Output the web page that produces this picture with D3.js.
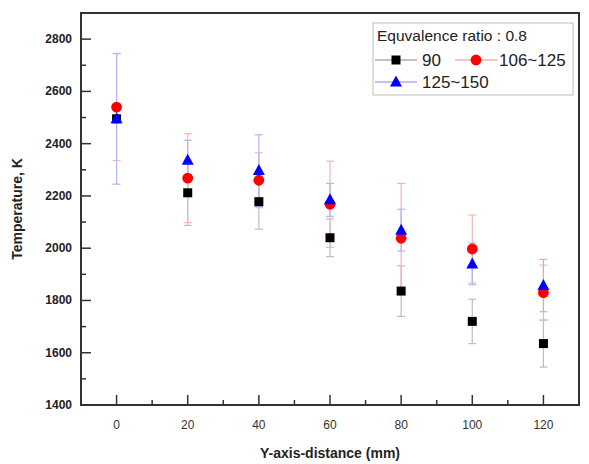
<!DOCTYPE html>
<html>
<head>
<meta charset="utf-8">
<script src="https://cdn.jsdelivr.net/npm/d3@7"></script>
<style>
  body { margin: 0; background: #fff; }
  svg { font-family: "Liberation Sans", Arial, sans-serif; }
</style>
</head>
<body>
<div id="chart"></div>
<script>
// distances along the y axis (mm)
const distances = [0, 20, 40, 60, 80, 100, 120];

// temperatures (K) and error half-widths for each series
const temp90 = [2495, 2212, 2178, 2040, 1836, 1720, 1635];
const err90 = [0, 125, 105, 72, 97, 85, 90];
const temp106 = [2540, 2268, 2260, 2168, 2038, 1997, 1830];
const err106 = [205, 170, 105, 165, 210, 130, 105];
const temp125 = [2495, 2337, 2297, 2185, 2069, 1940, 1857];
const err125 = [250, 76, 137, 63, 80, 80, 100];

const xTicks = [0, 20, 40, 60, 80, 100, 120];
const yTicks = [1400, 1600, 1800, 2000, 2200, 2400, 2600, 2800];

const series = [
  { name: '90', values: temp90, errors: err90, color: '#000', errColor: '#bdbdbd', shape: 'square' },
  { name: '106~125', values: temp106, errors: err106, color: '#ff0000', errColor: '#f8b4b4', shape: 'circle' },
  { name: '125~150', values: temp125, errors: err125, color: '#0000ff', errColor: '#b4b4f4', shape: 'triangle' }
];

const W = 589, H = 464;
const margin = { top: 13, right: 10, bottom: 59, left: 81 };
const width = W - margin.left - margin.right;
const height = H - margin.top - margin.bottom;

const svg = d3.select('#chart').append('svg')
  .attr('width', W)
  .attr('height', H);

const g = svg.append('g')
  .attr('transform', `translate(${margin.left},${margin.top})`);

const x = d3.scaleLinear().domain([-10, 130]).range([0, width]);
const y = d3.scaleLinear().domain([1400, 2900]).range([height, 0]);

// minor ticks (inward)
const minorX = d3.range(-10, 131, 10).filter(v => v % 20 !== 0 && v > -10 && v < 130);
const minorY = d3.range(1500, 2900, 200);

g.selectAll('.minor-x').data(minorX).enter().append('line')
  .attr('x1', d => x(d)).attr('x2', d => x(d))
  .attr('y1', height).attr('y2', height - 5)
  .attr('stroke', '#333').attr('stroke-width', 1.5);

g.selectAll('.major-x').data(xTicks).enter().append('line')
  .attr('x1', d => x(d)).attr('x2', d => x(d))
  .attr('y1', height).attr('y2', height - 10)
  .attr('stroke', '#333').attr('stroke-width', 1.5);

g.selectAll('.minor-y').data(minorY).enter().append('line')
  .attr('x1', 0).attr('x2', 5)
  .attr('y1', d => y(d)).attr('y2', d => y(d))
  .attr('stroke', '#333').attr('stroke-width', 1.5);

g.selectAll('.major-y').data(yTicks).enter().append('line')
  .attr('x1', 0).attr('x2', 10)
  .attr('y1', d => y(d)).attr('y2', d => y(d))
  .attr('stroke', '#333').attr('stroke-width', 1.5);

// tick labels
g.selectAll('.xlab').data(xTicks).enter().append('text')
  .attr('x', d => x(d))
  .attr('y', height + 24)
  .attr('text-anchor', 'middle')
  .style('font-size', '12px')
  .style('fill', '#333')
  .text(d => d);

g.selectAll('.ylab').data(yTicks).enter().append('text')
  .attr('x', -9)
  .attr('y', d => y(d) + 4)
  .attr('text-anchor', 'end')
  .style('font-size', '12px')
  .style('font-weight', 'bold')
  .style('fill', '#222')
  .text(d => d);

// error bars
series.forEach(s => {
  distances.forEach((d, i) => {
    const e = s.errors[i];
    if (!e) return;
    const cx = x(d);
    const y1 = y(s.values[i] - e), y2 = y(s.values[i] + e);
    g.append('line')
      .attr('x1', cx).attr('x2', cx).attr('y1', y1).attr('y2', y2)
      .attr('stroke', s.errColor).attr('stroke-width', 1.2);
    [y1, y2].forEach(yy => {
      g.append('line')
        .attr('x1', cx - 4).attr('x2', cx + 4).attr('y1', yy).attr('y2', yy)
        .attr('stroke', s.errColor).attr('stroke-width', 1.2);
    });
  });
});

// markers
function marker(sel, shape, color) {
  if (shape === 'square') {
    sel.append('rect').attr('x', -4.5).attr('y', -4.5).attr('width', 9).attr('height', 9).attr('fill', color);
  } else if (shape === 'circle') {
    sel.append('circle').attr('r', 5.4).attr('fill', color);
  } else {
    sel.append('path').attr('d', 'M0,-6.5L6,4.5L-6,4.5Z').attr('fill', color);
  }
}

series.forEach(s => {
  distances.forEach((d, i) => {
    const m = g.append('g').attr('transform', `translate(${x(d)},${y(s.values[i])})`);
    marker(m, s.shape, s.color);
  });
});

// frame
g.append('rect')
  .attr('x', 0).attr('y', 0).attr('width', width).attr('height', height)
  .attr('fill', 'none').attr('stroke', '#333').attr('stroke-width', 2);

// legend
const lg = svg.append('g').attr('transform', 'translate(373,23)');
lg.append('rect')
  .attr('width', 200).attr('height', 72)
  .attr('fill', '#fff').attr('stroke', '#bbb').attr('stroke-width', 1);
lg.append('text')
  .attr('x', 4).attr('y', 18)
  .style('font-size', '15.5px').style('fill', '#222')
  .text('Equvalence ratio : 0.8');

const legendPos = [
  { x0: 2, y0: 37, textX: 49 },
  { x0: 82, y0: 37, textX: 126 },
  { x0: 2, y0: 59, textX: 49 }
];
series.forEach((s, i) => {
  const p = legendPos[i];
  lg.append('line')
    .attr('x1', p.x0).attr('x2', p.x0 + 42).attr('y1', p.y0).attr('y2', p.y0)
    .attr('stroke', s.color).attr('stroke-width', 0.8).attr('opacity', 0.6);
  const m = lg.append('g').attr('transform', `translate(${p.x0 + 21},${p.y0})`);
  marker(m, s.shape, s.color);
  lg.append('text')
    .attr('x', p.textX).attr('y', p.y0 + 6)
    .style('font-size', '17px').style('fill', '#222')
    .text(s.name);
});

// axis titles
svg.append('text')
  .attr('x', margin.left + width / 2)
  .attr('y', 458)
  .attr('text-anchor', 'middle')
  .style('font-size', '14px').style('font-weight', 'bold').style('fill', '#222')
  .text('Y-axis-distance (mm)');

svg.append('text')
  .attr('transform', `translate(22,${margin.top + height / 2}) rotate(-90)`)
  .attr('text-anchor', 'middle')
  .style('font-size', '14px').style('font-weight', 'bold').style('fill', '#222')
  .text('Temperature,  K');
</script>
</body>
</html>
